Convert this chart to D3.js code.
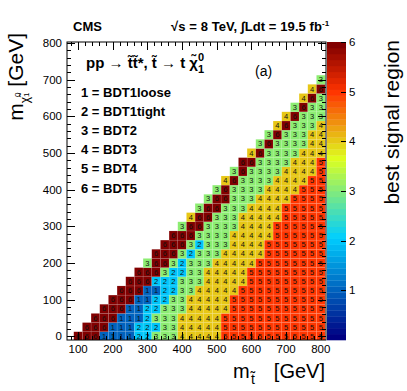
<!DOCTYPE html>
<html>
<head>
<meta charset="utf-8">
<script src="https://cdn.jsdelivr.net/npm/d3@7"></script>
<style>
body { margin: 0; background: #fff; }
svg { display: block; font-family: "Liberation Sans", Arial, Helvetica, sans-serif; }
</style>
</head>
<body>
<div id="chart"></div>
<script>
// stop mass (columns) and LSP mass (rows), GeV
var mStop = [100, 125, 150, 175, 200, 225, 250, 275, 300, 325, 350, 375, 400, 425, 450,
             475, 500, 525, 550, 575, 600, 625, 650, 675, 700, 725, 750, 775, 800];
var mLsp = [0, 25, 50, 75, 100, 125, 150, 175, 200, 225, 250, 275, 300, 325, 350,
            375, 400, 425, 450, 475, 500, 525, 550, 575, 600, 625, 650, 675, 700];

// best signal region per row (mLsp index r), first char is column r (mStop index r)
var bestRegion = [
    "66611112233344444555555555555",
    "6661112223344444555555555555",
    "666111233344444555555555555",
    "66611223334444455555555555",
    "6661122334444455555555555",
    "666112233444445555555555",
    "66622233344444555555555",
    "6663223344444555555555",
    "366323334444455555555",
    "66632333444445555555",
    "6663233344445555555",
    "666333344444555555",
    "36633334444555555",
    "4663334444455555",
    "366333444455555",
    "36633344445555",
    "3633334444555",
    "463333444455",
    "36333344445",
    "6633334445",
    "463333444",
    "36333344",
    "3633344",
    "463334",
    "46333",
    "3633",
    "463",
    "46",
    "3"
];

var xTicks = [100, 200, 300, 400, 500, 600, 700, 800];
var yTicks = [0, 100, 200, 300, 400, 500, 600, 700, 800];
var zTicks = [1, 2, 3, 4, 5, 6];
var legendLines = ["1 = BDT1loose", "2 = BDT1tight", "3 = BDT2", "4 = BDT3", "5 = BDT4", "6 = BDT5"];

var W = 407, H = 391;
var frame = {left: 67, right: 326, top: 42, bottom: 340};

var x = d3.scaleLinear().domain([68, 815]).range([frame.left, frame.right]);
var y = d3.scaleLinear().domain([-10, 803]).range([frame.bottom, frame.top]);
var z = d3.scaleLinear().domain([0, 6]).range([frame.bottom, frame.top]);

// ROOT style rainbow palette, 50 colours
var stops = [0.00, 0.34, 0.61, 0.84, 1.00];
var red   = [0.00, 0.00, 0.87, 1.00, 0.51];
var green = [0.00, 0.81, 1.00, 0.20, 0.00];
var blue  = [0.51, 1.00, 0.12, 0.00, 0.00];
function gradient(t) {
    var i = 0;
    while (i < 3 && t > stops[i + 1]) i++;
    var f = (t - stops[i]) / (stops[i + 1] - stops[i]);
    var c = function(a) { return Math.round(255 * (a[i] + f * (a[i + 1] - a[i]))); };
    return "rgb(" + c(red) + "," + c(green) + "," + c(blue) + ")";
}
var nCol = 50;
var palette = d3.range(nCol).map(function(i) { return gradient(i / (nCol - 1)); });
function colorOf(v) {
    return palette[Math.min(nCol - 1, Math.floor(v / 6 * nCol))];
}

var svg = d3.select("#chart").append("svg")
    .attr("width", W)
    .attr("height", H);

svg.append("defs").append("clipPath").attr("id", "frameClip")
    .append("rect")
    .attr("x", frame.left).attr("y", frame.top)
    .attr("width", frame.right - frame.left)
    .attr("height", frame.bottom - frame.top);

// cells
var cells = [];
bestRegion.forEach(function(row, r) {
    row.split("").forEach(function(ch, k) {
        cells.push({ms: mStop[r + k], ml: mLsp[r], v: +ch});
    });
});

var cellG = svg.append("g").attr("clip-path", "url(#frameClip)");
cellG.selectAll("rect.cell")
    .data(cells)
    .enter()
    .append("rect")
    .attr("class", "cell")
    .attr("x", d => x(d.ms - 12.5))
    .attr("y", d => y(d.ml + 12.5))
    .attr("width", d => x(d.ms + 12.5) - x(d.ms - 12.5))
    .attr("height", d => y(d.ml - 12.5) - y(d.ml + 12.5))
    .style("fill", d => colorOf(d.v))
    .style("stroke", "rgba(255,255,255,0.18)")
    .style("stroke-width", 0.5);

cellG.selectAll("text.val")
    .data(cells)
    .enter()
    .append("text")
    .attr("class", "val")
    .attr("x", d => x(d.ms))
    .attr("y", d => y(d.ml) + 2.6)
    .attr("text-anchor", "middle")
    .style("font-size", "7.5px")
    .style("fill", "#111")
    .text(d => d.v);

// frame + ticks on all sides
var axG = svg.append("g").style("stroke", "#000").style("stroke-width", 1);
axG.append("rect")
    .attr("x", frame.left).attr("y", frame.top)
    .attr("width", frame.right - frame.left)
    .attr("height", frame.bottom - frame.top)
    .style("fill", "none");

var xMinor = d3.range(80, 815, 20).filter(v => v % 100 !== 0);
var yMinor = d3.range(20, 803, 20).filter(v => v % 100 !== 0);

function xTickLines(vals, len) {
    vals.forEach(function(v) {
        var px = Math.round(x(v)) + 0.5;
        axG.append("line").attr("x1", px).attr("x2", px).attr("y1", frame.bottom).attr("y2", frame.bottom - len);
        axG.append("line").attr("x1", px).attr("x2", px).attr("y1", frame.top).attr("y2", frame.top + len);
    });
}
function yTickLines(vals, len) {
    vals.forEach(function(v) {
        var py = Math.round(y(v)) + 0.5;
        axG.append("line").attr("y1", py).attr("y2", py).attr("x1", frame.left).attr("x2", frame.left + len);
        axG.append("line").attr("y1", py).attr("y2", py).attr("x1", frame.right).attr("x2", frame.right - len);
    });
}
xTickLines(xTicks, 8);
xTickLines(xMinor, 4);
yTickLines(yTicks, 8);
yTickLines(yMinor, 4);

// tick labels
svg.selectAll("text.xl")
    .data(xTicks)
    .enter()
    .append("text")
    .attr("x", d => x(d))
    .attr("y", 353)
    .attr("text-anchor", "middle")
    .style("font-size", "11.5px")
    .text(d => d);

svg.selectAll("text.yl")
    .data(yTicks)
    .enter()
    .append("text")
    .attr("x", 62)
    .attr("y", d => y(d) + 4)
    .attr("text-anchor", "end")
    .style("font-size", "11.5px")
    .text(d => d);

// colour bar
var cb = {left: 327, right: 346};
svg.selectAll("rect.pal")
    .data(palette)
    .enter()
    .append("rect")
    .attr("x", cb.left)
    .attr("width", cb.right - cb.left)
    .attr("y", (d, i) => z((i + 1) * 6 / nCol))
    .attr("height", (d, i) => z(i * 6 / nCol) - z((i + 1) * 6 / nCol) + 0.3)
    .style("fill", d => d);

svg.selectAll("line.zt")
    .data(zTicks)
    .enter()
    .append("line")
    .attr("x1", cb.right).attr("x2", cb.right - 5)
    .attr("y1", d => Math.round(z(d)) + 0.5)
    .attr("y2", d => Math.round(z(d)) + 0.5)
    .style("stroke", "#000");

svg.selectAll("text.zl")
    .data(zTicks)
    .enter()
    .append("text")
    .attr("x", 349)
    .attr("y", d => z(d) + 4)
    .style("font-size", "11.5px")
    .text(d => d);

// axis titles
svg.append("text")
    .attr("x", 233).attr("y", 378)
    .style("font-size", "20px")
    .text("m");
svg.append("text")
    .attr("x", 251).attr("y", 384)
    .style("font-size", "14px")
    .text("t\u0303");
svg.append("text")
    .attr("x", 325).attr("y", 378)
    .attr("text-anchor", "end")
    .style("font-size", "20px")
    .text("[GeV]");

var yt = svg.append("text")
    .attr("transform", "translate(23,33) rotate(-90)")
    .attr("text-anchor", "end")
    .style("font-size", "21px");
yt.append("tspan").text("m");
yt.append("tspan").attr("dy", 6).style("font-size", "12px").text("\u03c7\u0303");
yt.append("tspan").attr("dy", -9).attr("dx", 0).style("font-size", "8px").text("0");
yt.append("tspan").attr("dy", 9).attr("dx", -4.5).style("font-size", "8px").text("1");
yt.append("tspan").attr("dy", -6).text(" [GeV]");

svg.append("text")
    .attr("transform", "translate(399,40) rotate(-90)")
    .attr("text-anchor", "end")
    .style("font-size", "21px")
    .text("best signal region");

// header
svg.append("text")
    .attr("x", 73).attr("y", 31)
    .style("font-size", "13px").style("font-weight", "bold")
    .text("CMS");

svg.append("text")
    .attr("x", 171).attr("y", 31)
    .attr("textLength", 151)
    .attr("lengthAdjust", "spacing")
    .style("font-size", "13px").style("font-weight", "bold")
    .text("\u221as = 8 TeV, \u222bLdt = 19.5 fb");
svg.append("text")
    .attr("x", 322).attr("y", 26)
    .style("font-size", "8px").style("font-weight", "bold")
    .text("-1");

// process label
var proc = svg.append("text")
    .attr("x", 86).attr("y", 68)
    .style("font-size", "15px").style("font-weight", "bold");
proc.append("tspan").text("pp \u2192 t\u0303t\u0303*, t\u0303 \u2192 t \u03c7\u0303");
proc.append("tspan").attr("dy", -7).style("font-size", "11px").text("0");
proc.append("tspan").attr("dy", 12).attr("dx", -6).style("font-size", "11px").text("1");

svg.append("text")
    .attr("x", 255).attr("y", 76)
    .style("font-size", "14px")
    .text("(a)");

svg.selectAll("text.leg")
    .data(legendLines)
    .enter()
    .append("text")
    .attr("x", 81)
    .attr("y", (d, i) => 97 + i * 19.1)
    .style("font-size", "13px").style("font-weight", "bold")
    .text(d => d);
</script>
</body>
</html>
